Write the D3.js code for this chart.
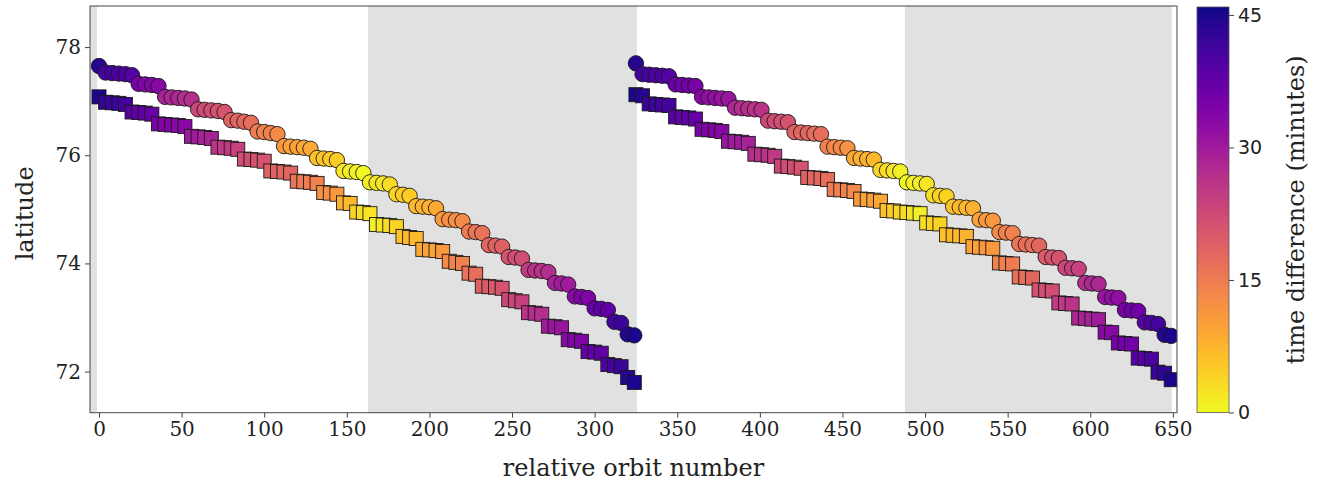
<!DOCTYPE html>
<html><head><meta charset="utf-8">
<script src="https://cdn.jsdelivr.net/npm/d3@7"></script>
<style>body{margin:0;background:#fff}svg{display:block}</style>
</head><body>
<svg id="chart" width="1320" height="485"></svg>
<script>
// ---------- data ----------
const orbitsA = [0,4,8,12,16,20,24,28,32,36,40,44,48,52,56,60,64,68,72,76,80,84,88,92,96,100,104,108,112,116,120,124,128,132,136,140,144,148,152,156,160,164,168,172,176,180,184,188,192,196,200,204,208,212,216,220,224,228,232,236,240,244,248,252,256,260,264,268,272,276,280,284,288,292,296,300,304,308,312,316,320,324];
const orbitsB = [325,329,333,337,341,345,349,353,357,361,365,369,373,377,381,385,389,393,397,401,405,409,413,417,421,425,429,433,437,441,445,449,453,457,461,465,469,473,477,481,485,489,493,497,501,505,509,513,517,521,525,529,533,537,541,545,549,553,557,561,565,569,573,577,581,585,589,593,597,601,605,609,613,617,621,625,629,633,637,641,645,649];

const circleLatA = [77.65,77.53,77.52,77.51,77.50,77.48,77.32,77.31,77.30,77.28,77.08,77.07,77.06,77.05,77.03,76.85,76.84,76.83,76.82,76.80,76.65,76.64,76.62,76.60,76.44,76.43,76.41,76.39,76.17,76.16,76.15,76.14,76.12,75.95,75.94,75.93,75.91,75.71,75.70,75.69,75.67,75.50,75.49,75.48,75.46,75.28,75.27,75.25,75.06,75.05,75.04,75.02,74.82,74.81,74.80,74.78,74.59,74.58,74.56,74.34,74.33,74.31,74.12,74.11,74.09,73.88,73.87,73.86,73.84,73.64,73.63,73.61,73.39,73.38,73.36,73.17,73.16,73.14,72.92,72.90,72.69,72.67];
const circleMinA = [44,41,41,40,40,39,35,34,34,33,29,28,28,27,27,23,22,22,21,21,19,18,18,17,15,14,14,13,11,10,10,9,9,6,6,5,5,2,1,1,0,1,2,2,3,4,5,5,7,8,8,9,11,12,12,13,15,16,16,18,19,19,21,22,22,25,26,26,27,29,30,30,33,34,34,37,38,38,41,42,44,45];

const squareLatA = [77.08,76.98,76.97,76.96,76.94,76.80,76.79,76.78,76.76,76.58,76.57,76.56,76.55,76.53,76.35,76.34,76.33,76.31,76.15,76.14,76.13,76.11,75.93,75.92,75.91,75.89,75.71,75.70,75.69,75.67,75.52,75.51,75.50,75.48,75.31,75.30,75.28,75.12,75.11,74.95,74.94,74.92,74.72,74.71,74.70,74.68,74.50,74.48,74.46,74.26,74.25,74.24,74.22,74.04,74.02,74.00,73.82,73.80,73.58,73.57,73.56,73.54,73.33,73.31,73.29,73.09,73.08,73.06,72.84,72.83,72.81,72.59,72.58,72.56,72.37,72.36,72.34,72.13,72.11,72.09,71.89,71.80];
const squareMinA = [45,43,42,42,41,39,38,38,37,35,34,34,33,33,30,30,29,29,26,25,25,24,22,22,21,21,19,19,18,18,16,15,15,14,12,12,11,8,7,4,3,2,1,2,3,4,6,7,7,9,10,10,11,13,14,14,16,17,19,20,20,21,23,23,24,26,27,27,30,31,31,33,34,34,37,38,38,40,41,42,44,45];

const circleLatB = [77.70,77.50,77.49,77.48,77.47,77.46,77.31,77.30,77.29,77.28,77.08,77.07,77.06,77.05,77.04,76.88,76.87,76.86,76.85,76.84,76.64,76.63,76.62,76.61,76.43,76.42,76.41,76.40,76.39,76.16,76.15,76.14,76.13,75.95,75.94,75.93,75.92,75.73,75.72,75.71,75.70,75.50,75.49,75.48,75.47,75.26,75.25,75.24,75.05,75.04,75.03,75.02,74.81,74.80,74.79,74.58,74.57,74.56,74.36,74.35,74.34,74.33,74.12,74.11,74.10,73.92,73.91,73.90,73.64,73.63,73.62,73.38,73.37,73.36,73.14,73.13,73.12,72.91,72.90,72.88,72.68,72.66];
const circleMinB = [44,41,41,40,40,39,37,36,36,35,33,32,32,31,31,28,27,27,26,26,23,22,22,21,19,18,18,17,17,14,13,13,12,9,8,8,7,4,3,2,1,0,1,1,2,3,4,4,6,7,7,8,10,11,11,13,14,14,16,17,17,18,20,21,21,23,24,24,27,28,28,31,32,32,35,36,36,39,40,41,44,45];

const squareLatB = [77.12,77.10,76.95,76.94,76.93,76.92,76.71,76.70,76.69,76.67,76.48,76.47,76.46,76.44,76.26,76.25,76.24,76.22,76.02,76.01,76.00,75.98,75.80,75.79,75.78,75.76,75.59,75.58,75.57,75.55,75.37,75.36,75.35,75.33,75.19,75.18,75.17,75.15,74.98,74.97,74.95,74.94,74.93,74.92,74.75,74.74,74.73,74.53,74.52,74.51,74.50,74.31,74.30,74.29,74.28,74.01,74.00,73.99,73.75,73.74,73.73,73.51,73.50,73.49,73.27,73.26,73.25,72.99,72.98,72.97,72.96,72.73,72.72,72.53,72.52,72.51,72.25,72.24,72.23,71.99,71.97,71.85];
const squareMinB = [45,44,42,42,41,41,39,38,38,37,35,34,34,33,31,30,30,29,27,26,26,25,23,22,22,21,19,18,18,17,15,14,14,13,11,10,10,9,6,5,4,3,2,1,3,4,4,6,7,7,8,10,10,11,11,14,14,15,17,17,18,21,22,22,25,25,26,28,29,29,30,33,33,35,36,36,39,39,40,42,43,45];

const shadeStart = [-6, 162.8, 487.8];
const shadeEnd   = [-1.2, 325.6, 649.3];
const xTicks = [0,50,100,150,200,250,300,350,400,450,500,550,600,650];
const yTicks = [72,74,76,78];
const cbTicks = [0,15,30,45];

// ---------- layout ----------
const P = {l:90, t:6, r:1177, b:412.7};
const x = d3.scaleLinear().domain([-5.45, 652.5]).range([P.l, P.r]);
const y = d3.scaleLinear().domain([71.24, 78.76]).range([P.b, P.t]);
const vmax = 45.9;
const color = v => d3.interpolatePlasma(1 - v / vmax);

const svg = d3.select("#chart");
const serif = "'DejaVu Serif', serif";
const sans = "'DejaVu Sans', sans-serif";

svg.append("defs").append("clipPath").attr("id","clip")
  .append("rect").attr("x",P.l).attr("y",P.t).attr("width",P.r-P.l).attr("height",P.b-P.t);

const g = svg.append("g").attr("clip-path","url(#clip)");
g.selectAll("rect.shade").data(shadeStart.map((s,i)=>[s,shadeEnd[i]])).join("rect")
  .attr("class","shade")
  .attr("x", d=>x(d[0])).attr("width", d=>x(d[1])-x(d[0]))
  .attr("y", P.t).attr("height", P.b-P.t).attr("fill","#e1e1e1");

function series(orbits, lats, mins){ return orbits.map((o,i)=>({o, lat:lats[i], m:mins[i]})); }
const sqA = series(orbitsA, squareLatA, squareMinA);
const ciA = series(orbitsA, circleLatA, circleMinA);
const sqB = series(orbitsB, squareLatB, squareMinB);
const ciB = series(orbitsB, circleLatB, circleMinB);

const S = 14;
function drawSquares(data){
  g.append("g").selectAll("rect").data(data).join("rect")
    .attr("x", d=>x(d.o)-S/2).attr("y", d=>y(d.lat)-S/2)
    .attr("width", S).attr("height", S)
    .attr("fill", d=>color(d.m)).attr("stroke","#1a1a1a").attr("stroke-width",0.9);
}
function drawCircles(data){
  g.append("g").selectAll("circle").data(data).join("circle")
    .attr("cx", d=>x(d.o)).attr("cy", d=>y(d.lat)).attr("r", 7.7)
    .attr("fill", d=>color(d.m)).attr("stroke","#1a1a1a").attr("stroke-width",0.9);
}
drawSquares(sqA); drawCircles(ciA);
drawSquares(sqB); drawCircles(ciB);

// frame
svg.append("rect").attr("x",P.l).attr("y",P.t).attr("width",P.r-P.l).attr("height",P.b-P.t)
  .attr("fill","none").attr("stroke","#444").attr("stroke-width",1);

// axes
const xa = svg.append("g").attr("transform",`translate(0,${P.b})`)
  .call(d3.axisBottom(x).tickValues(xTicks).tickSize(5).tickPadding(4).tickFormat(d3.format("d")));
const ya = svg.append("g").attr("transform",`translate(${P.l},0)`)
  .call(d3.axisLeft(y).tickValues(yTicks).tickSize(5).tickPadding(4).tickFormat(d3.format("d")));
[xa,ya].forEach(a=>{
  a.select(".domain").remove();
  a.selectAll("line").attr("stroke","#444");
  a.selectAll("text").attr("font-family",serif).attr("font-size",20).attr("fill","#222");
});

svg.append("text").attr("x", (P.l+P.r)/2).attr("y", 476)
  .attr("text-anchor","middle").attr("font-family",serif).attr("font-size",24).attr("fill","#222")
  .text("relative orbit number");
svg.append("text").attr("transform",`translate(33,${(P.t+P.b)/2 + 4}) rotate(-90)`)
  .attr("text-anchor","middle").attr("font-family",serif).attr("font-size",24).attr("fill","#222")
  .text("latitude");

// colorbar
const CB = {l:1197, r:1229, t:7, b:412.5};
const cy = d3.scaleLinear().domain([0, vmax]).range([CB.b, CB.t]);
const grad = svg.select("defs").append("linearGradient").attr("id","cbg")
  .attr("x1",0).attr("y1",1).attr("x2",0).attr("y2",0);
d3.range(0, 1.0001, 0.05).forEach(t=>{
  grad.append("stop").attr("offset", t).attr("stop-color", color(t*vmax));
});
svg.append("rect").attr("x",CB.l).attr("y",CB.t).attr("width",CB.r-CB.l).attr("height",CB.b-CB.t)
  .attr("fill","url(#cbg)").attr("stroke","#555").attr("stroke-width",0.8);
const ca = svg.append("g").attr("transform",`translate(${CB.r},0)`)
  .call(d3.axisRight(cy).tickValues(cbTicks).tickSize(5).tickPadding(4));
ca.select(".domain").remove();
ca.selectAll("line").attr("stroke","#444");
ca.selectAll("text").attr("font-family",sans).attr("font-size",19).attr("fill","#222");

svg.append("text").attr("transform",`translate(1304,${(CB.t+CB.b)/2}) rotate(-90)`)
  .attr("text-anchor","middle").attr("font-family",serif).attr("font-size",24).attr("fill","#222")
  .text("time difference (minutes)");
</script>
</body></html>
